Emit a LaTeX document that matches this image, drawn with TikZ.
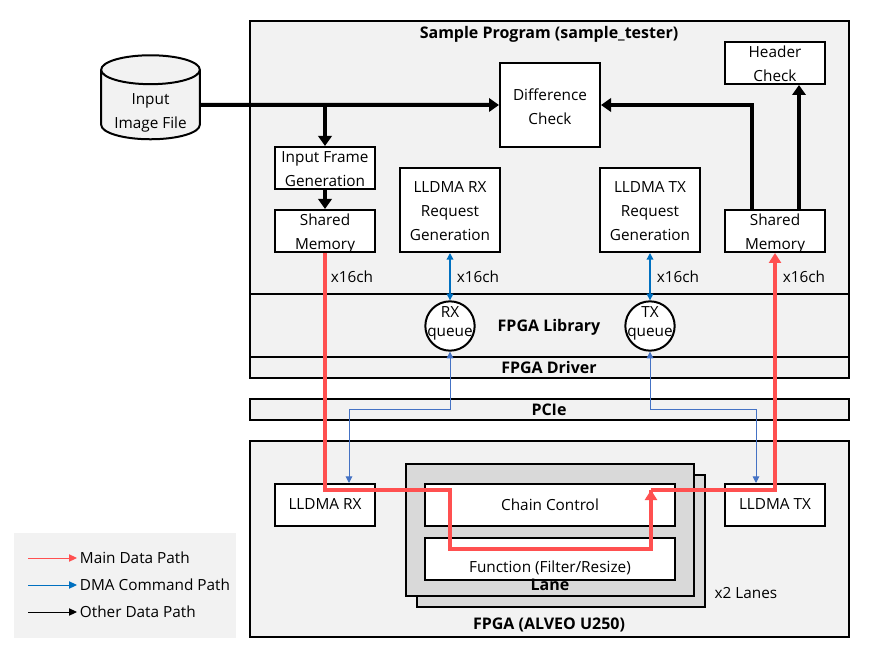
\documentclass[tikz,border=0pt]{standalone}
\usepackage{fontspec}
\setmainfont{Open Sans}
\usetikzlibrary{arrows.meta,shapes.geometric}
\definecolor{panelgray}{HTML}{F2F2F2}
\definecolor{lanegray}{HTML}{D9D9D9}
\definecolor{mainred}{HTML}{FF5050}
\definecolor{dmablue}{HTML}{0070C0}
\definecolor{pcieblue}{HTML}{4472C4}
\newcommand{\nudge}[2][-1pt]{\raisebox{#1}[\height][\depth]{#2}}
\begin{document}
\begin{tikzpicture}[
  x=0.75pt, y=-0.75pt,
  every node/.style={font=\fontsize{11.5}{18}\selectfont, inner sep=0pt},
  layer/.style={draw, line width=1.5pt, fill=panelgray, minimum width=449pt},
  lane/.style={draw, line width=1.5pt, fill=lanegray, minimum width=216pt, minimum height=99pt},
  block/.style={draw, line width=1.5pt, fill=white, align=center, minimum width=75pt, minimum height=31.5pt},
  widebox/.style={block, minimum width=187.5pt},
  tallbox/.style={block, minimum height=63pt},
  queue/.style={draw, line width=1.5pt, fill=white, circle, inner sep=-5pt, minimum size=37pt, align=center, font=\fontsize{11.5}{14}\selectfont},
  title/.style={font=\fontsize{12}{14}\selectfont\bfseries},
  other/.style={line width=3pt, -{Triangle[length=7.5pt,width=10pt]}},
  main/.style={mainred, line width=3pt, -{Triangle[length=7.5pt,width=9pt]}},
  dma/.style={dmablue, line width=1pt, {Triangle[length=5pt,width=5pt]}-{Triangle[length=5pt,width=5pt]}},
  pcielink/.style={pcieblue, line width=0.75pt, {Triangle[length=5pt,width=5pt]}-{Triangle[length=5pt,width=5pt]}},
  key/.style={line width=0.75pt, -{Triangle[length=6pt,width=5.5pt]}}
]
  \useasboundingbox (0,0) rectangle (875,652);

  \node[layer, minimum height=204.75pt] (program) at (549.5,157.5) {};
  \node[layer, minimum height=47.25pt] (library) at (549.5,325.5) {};
  \node[layer, minimum height=15.75pt] (driver) at (549.5,367.5) {};
  \node[layer, minimum height=15.75pt] (pcie) at (549.5,409.5) {};
  \node[layer, minimum height=147pt] (fpga) at (549.5,539) {};

  \node[title] (programtitle) at (549,34) {Sample Program (sample\_tester)};
  \node[title] (librarytitle) at (549,327) {FPGA Library};
  \node[title] (drivertitle) at (549,367.5) {FPGA Driver};
  \node[title] (pcietitle) at (549,409.5) {PCIe};
  \node[title] (fpgatitle) at (549,625) {FPGA (ALVEO U250)};

  \node[draw, line width=1.5pt, fill=panelgray, cylinder, shape border rotate=90, aspect=0.4,
    minimum width=74pt, minimum height=63pt, align=center] (input) at (150.5,105)
    {\nudge[-6pt]{Input}\\\nudge[-6pt]{Image File}};

  \node[tallbox] (diff) at (550,105) {\nudge{Difference}\\\nudge{Check}};
  \node[block] (header) at (775,63) {\nudge[-0.75pt]{Header}\\\nudge[-0.75pt]{Check}};
  \node[block] (framegen) at (325,168) {\nudge{Input Frame}\\\nudge{Generation}};
  \node[block] (sharedin) at (325,231) {\nudge[-2.2pt]{Shared}\\\nudge[-2.2pt]{Memory}};
  \node[block] (sharedout) at (775,231) {\nudge[-2.2pt]{Shared}\\\nudge[-2.2pt]{Memory}};
  \node[tallbox] (rxreq) at (450,210) {\nudge{LLDMA RX}\\\nudge{Request}\\\nudge{Generation}};
  \node[tallbox] (txreq) at (650,210) {\nudge{LLDMA TX}\\\nudge{Request}\\\nudge{Generation}};
  \node[queue] (rxqueue) at (450,326) {\nudge[2.2pt]{RX}\\\nudge[2.2pt]{queue}};
  \node[queue] (txqueue) at (650,326) {\nudge[2.2pt]{TX}\\\nudge[2.2pt]{queue}};

  \node[lane] (laneback) at (561,540.5) {};
  \node[lane] (lanefront) at (549.5,530) {};
  \node[widebox] (chain) at (550,504.5) {Chain Control};
  \node[widebox] (function) at (550,559) {\nudge[-6.5pt]{Function (Filter/Resize)}};
  \node[title] (lanetitle) at (550,585) {Lane};
  \node (lanes) at (746,593) {x2 Lanes};
  \node[block] (rxdma) at (325,504.5) {LLDMA RX};
  \node[block] (txdma) at (775,504.5) {LLDMA TX};

  \node (rxcount) at (352,277) {x16ch};
  \node (rxreqcount) at (478,277) {x16ch};
  \node (txreqcount) at (678,277) {x16ch};
  \node (txcount) at (804,277) {x16ch};

  \coordinate (branch) at (325,105);
  \coordinate (diffout) at (752,105);
  \coordinate (rxturn) at (450,490);
  \coordinate (rxdown) at (450,549);
  \coordinate (txup) at (651,549);
  \coordinate (txin) at (651,490);

  \draw[other] (input) -- (diff);
  \draw[other] (branch) -- (framegen);
  \draw[other] (framegen) -- (sharedin);
  \draw[other] (sharedout.north -| diffout) -- (diffout) -- (diff.east |- diffout);
  \draw[other] (sharedout.north -| 799,0) -- (header.south -| 799,0);

  \draw[dma] (rxreq) -- (rxqueue);
  \draw[dma] (txreq) -- (txqueue);

  \draw[pcielink] (rxqueue.south) -- (450,409) -- (349,409) -- (349,483);
  \draw[pcielink] (txqueue.south) -- (650,409) -- (756,409) -- (756,483);

  \draw[mainred, line width=3pt] (sharedin.south) -- (325,490) -- (rxturn) -- (rxdown) -- (txup) -- (txin);
  \draw[main] (txup) -- (txin);
  \draw[main] (txin) -- (775,490) -- (sharedout.south);

  \node[fill=panelgray, minimum width=166.5pt, minimum height=78.75pt] (legend) at (125,585.5) {};
  \node[anchor=west, inner xsep=2pt] (mainlabel) at (77,558) {Main Data Path};
  \node[anchor=west, inner xsep=2pt] (dmalabel) at (77,585) {DMA Command Path};
  \node[anchor=west, inner xsep=2pt] (otherlabel) at (77,612) {Other Data Path};
  \coordinate (mainfrom) at (28,558);
  \coordinate (dmafrom) at (28,585);
  \coordinate (otherfrom) at (28,612);
  \draw[key, mainred] (mainfrom) -- (mainlabel);
  \draw[key, dmablue] (dmafrom) -- (dmalabel);
  \draw[key, black] (otherfrom) -- (otherlabel);
\end{tikzpicture}
\end{document}
